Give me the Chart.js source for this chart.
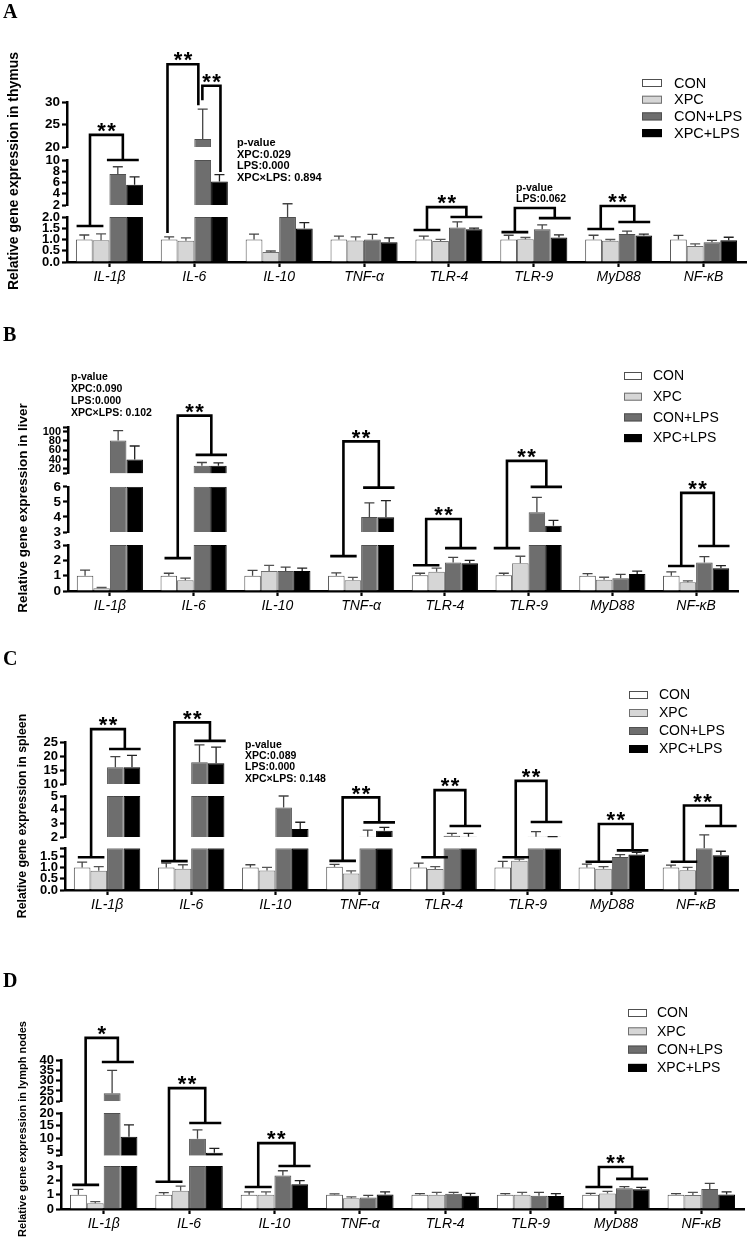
<!DOCTYPE html>
<html><head><meta charset="utf-8">
<script src="https://cdn.jsdelivr.net/npm/chart.js@4.4.1/dist/chart.umd.min.js"></script>
<style>
html,body{margin:0;padding:0;background:#fff;}
#page{position:relative;width:748px;height:1250px;overflow:hidden;background:#fff;}
.pnl{position:absolute;left:0;width:748px;}
canvas{display:block;}
</style></head><body>
<div id="page">
<div class="pnl" style="top:0;height:310px"><canvas id="cA" width="748" height="310" style="width:748px;height:310px"></canvas></div>
<div class="pnl" style="top:310px;height:320px"><canvas id="cB" width="748" height="320" style="width:748px;height:320px"></canvas></div>
<div class="pnl" style="top:630px;height:310px"><canvas id="cC" width="748" height="310" style="width:748px;height:310px"></canvas></div>
<div class="pnl" style="top:940px;height:310px"><canvas id="cD" width="748" height="310" style="width:748px;height:310px"></canvas></div>
</div>
<script>
// ---------------- DATA ----------------
const categories = ['IL-1β','IL-6','IL-10','TNF-α','TLR-4','TLR-9','MyD88','NF-κB'];
const groups = ['CON','XPC','CON+LPS','XPC+LPS'];

// A: thymus (mean, upper SD)
const thymusCON       = [1.0, 1.0, 1.0, 1.0, 1.0, 1.0, 1.0, 1.0];
const thymusCONErr    = [0.2, 0.12, 0.24, 0.15, 0.15, 0.19, 0.19, 0.18];
const thymusXPC       = [0.97, 0.94, 0.44, 0.96, 0.93, 1.01, 0.94, 0.71];
const thymusXPCErr    = [0.28, 0.13, 0.05, 0.16, 0.08, 0.08, 0.06, 0.1];
const thymusCONLPS    = [7.5, 21.8, 2.0, 1.0, 1.53, 1.46, 1.24, 0.88];
const thymusCONLPSErr = [1.3, 6.6, 0.59, 0.23, 0.25, 0.19, 0.13, 0.08];
const thymusXPCLPS    = [5.6, 6.2, 1.49, 0.88, 1.46, 1.09, 1.18, 0.97];
const thymusXPCLPSErr = [1.4, 1.2, 0.26, 0.19, 0.05, 0.12, 0.06, 0.13];
const thymusRanges = [[0, 2], [2, 10], [20, 30]];
const thymusTicks = [[0, 0.5, 1, 1.5, 2], [2, 4, 6, 8, 10], [20, 25, 30]];
const thymusTickLabels = [['0.0','0.5','1.0','1.5','2.0'], ['2','4','6','8','10'], ['20','25','30']];
// [category, left leg slot, right leg slot, [seg,val] left end, [seg,val] right end, [seg,val] top, feet, label]
const thymusBrackets = [
  [0, 0.34, 2.3, [0, 1.6], [1, 10], [2, 22.7], true, '**'],
  [1, -0.1, 1.74, [0, 1.29], [2, 29.3], [2, 38.4], false, '**'],
  [1, 1.98, 3.06, [2, 30.4], [1, 7.87], [2, 33.6], false, '**'],
  [4, 0.19, 2.54, [0, 1.42], [0, 2.0], [0, 2.44], true, '**'],
  [5, 0.37, 2.75, [0, 1.33], [0, 1.95], [0, 2.4], true, ''],
  [6, 0.43, 2.43, [0, 1.47], [0, 1.78], [0, 2.49], true, '**']
];
const thymusPValues = [['p-value','XPC:0.029','LPS:0.000','XPC×LPS: 0.894'], ['p-value','LPS:0.062']];

// B: liver
const liverCON       = [1.0, 1.0, 1.0, 1.0, 1.03, 1.03, 1.0, 1.0];
const liverCONErr    = [0.36, 0.16, 0.35, 0.18, 0.13, 0.13, 0.14, 0.25];
const liverXPC       = [0.18, 0.71, 1.3, 0.71, 1.26, 1.81, 0.73, 0.57];
const liverXPCErr    = [0.05, 0.13, 0.38, 0.18, 0.24, 0.46, 0.17, 0.09];
const liverCONLPS    = [81, 26.5, 1.3, 4.0, 1.87, 4.31, 0.84, 1.87];
const liverCONLPSErr = [21, 7, 0.26, 0.93, 0.33, 0.99, 0.25, 0.38];
const liverXPCLPS    = [40, 26.5, 1.3, 3.98, 1.81, 3.42, 1.11, 1.49];
const liverXPCLPSErr = [29, 6, 0.19, 1.1, 0.19, 0.35, 0.19, 0.17];
const liverRanges = [[0, 3], [3, 6], [10, 110]];
const liverTicks = [[0, 1, 2, 3], [3, 4, 5, 6], [10, 20, 40, 60, 80, 100, 110]];
const liverTickLabels = [['0','1','2','3'], ['3','4','5','6'], ['','20','40','60','80','100','']];
const liverBrackets = [
  [1, 0.54, 2.57, [0, 2.15], [2, 50], [2, 134.5], true, '**'],
  [3, 0.43, 2.57, [0, 2.28], [1, 5.95], [2, 79], true, '**'],
  [4, 0.37, 2.46, [0, 1.68], [0, 2.8], [1, 3.87], true, '**'],
  [5, 0.19, 2.57, [0, 2.8], [1, 6.0], [2, 37], true, '**'],
  [7, 0.6, 2.57, [0, 1.63], [0, 2.94], [1, 5.6], true, '**']
];
const liverPValues = [['p-value','XPC:0.090','LPS:0.000','XPC×LPS: 0.102']];

// C: spleen
const spleenCON       = [1.0, 1.0, 1.0, 1.03, 1.0, 1.0, 1.0, 1.0];
const spleenCONErr    = [0.24, 0.19, 0.12, 0.11, 0.19, 0.27, 0.15, 0.1];
const spleenXPC       = [0.85, 0.94, 0.87, 0.73, 0.93, 1.3, 0.94, 0.88];
const spleenXPCErr    = [0.19, 0.18, 0.13, 0.12, 0.11, 0.07, 0.1, 0.12];
const spleenCONLPS    = [16, 17.8, 4.16, 2.02, 2.1, 2.02, 1.46, 1.9];
const spleenCONLPSErr = [3.8, 6.2, 0.84, 0.48, 0.17, 0.37, 0.11, 0.55];
const spleenXPCLPS    = [16, 17.4, 2.58, 2.46, 2.02, 2.01, 1.57, 1.54];
const spleenXPCLPSErr = [4.2, 5.8, 0.5, 0.24, 0.25, 0.02, 0.1, 0.18];
const spleenRanges = [[0, 1.85], [2, 5], [10, 25]];
const spleenTicks = [[0, 0.5, 1, 1.5, 1.85], [2, 3, 4, 5], [10, 15, 20, 25]];
const spleenTickLabels = [['0.0','0.5','1.0','1.5',''], ['2','3','4','5'], ['10','15','20','25']];
const spleenBrackets = [
  [0, 0.54, 2.57, [0, 1.45], [2, 22.5], [2, 29.6], true, '**'],
  [1, 0.49, 2.63, [0, 1.28], [2, 25.4], [2, 32], true, '**'],
  [3, 0.49, 2.69, [0, 1.29], [1, 3.07], [1, 4.9], true, '**'],
  [4, 0.96, 2.81, [0, 1.45], [1, 2.8], [1, 5.43], true, '**'],
  [5, 0.78, 2.63, [0, 1.45], [1, 3.1], [2, 11.1], true, '**'],
  [6, 0.72, 2.75, [0, 1.25], [0, 1.76], [1, 2.95], true, '**'],
  [7, 0.78, 3.0, [0, 1.25], [1, 2.8], [1, 4.3], true, '**']
];
const spleenPValues = [['p-value','XPC:0.089','LPS:0.000','XPC×LPS: 0.148']];

// D: lymph nodes
const lymphCON       = [1.0, 1.0, 1.0, 1.0, 1.0, 1.0, 1.0, 1.0];
const lymphCONErr    = [0.37, 0.14, 0.2, 0.05, 0.07, 0.07, 0.09, 0.07];
const lymphXPC       = [0.4, 1.28, 1.0, 0.75, 1.0, 1.0, 1.09, 0.98];
const lymphXPCErr    = [0.11, 0.32, 0.2, 0.09, 0.16, 0.16, 0.14, 0.18];
const lymphCONLPS    = [23.9, 9.7, 2.33, 0.8, 1.07, 0.93, 1.44, 1.4];
const lymphCONLPSErr = [11.1, 3.6, 0.34, 0.15, 0.09, 0.23, 0.12, 0.39];
const lymphXPCLPS    = [10.5, 4.2, 1.72, 1.02, 0.93, 0.9, 1.37, 1.02];
const lymphXPCLPSErr = [4.8, 1.7, 0.26, 0.18, 0.16, 0.17, 0.14, 0.18];
const lymphRanges = [[0, 3], [3, 20], [20, 40]];
const lymphTicks = [[0, 1, 2, 3], [3, 5, 10, 15, 20], [20, 25, 30, 35, 40]];
const lymphTickLabels = [['0','1','2','3'], ['','5','10','15','20'], ['20','25','30','35','40']];
const lymphBrackets = [
  [0, 0.43, 2.34, [0, 1.68], [2, 39], [2, 50.7], true, '*'],
  [1, 0.31, 2.46, [0, 1.9], [1, 16], [2, 26.4], true, '**'],
  [2, 0.54, 2.69, [0, 1.54], [0, 3.0], [1, 8.0], true, '**'],
  [6, 0.49, 2.46, [0, 1.54], [0, 2.1], [0, 2.93], true, '**']
];

// ---------------- STYLE / LAYOUT ----------------
const FONT = "'Liberation Sans', Arial, Helvetica, sans-serif";
const SERIF = "'Liberation Serif', 'Times New Roman', serif";
const fills = ['#ffffff', '#d6d6d6', '#6e6e6e', '#000000'];
const edges = ['#505050', '#707070', '#505050', '#000000'];
const errColors = ['#444444', '#555555', '#444444', '#222222'];
Chart.defaults.font.family = FONT;
Chart.defaults.color = '#000';

const panels = [
  { canvas: 'cA', letter: 'A', title: 'Relative gene expression in thymus',
    series: [thymusCON, thymusXPC, thymusCONLPS, thymusXPCLPS],
    errors: [thymusCONErr, thymusXPCErr, thymusCONLPSErr, thymusXPCLPSErr],
    ranges: thymusRanges, ticks: thymusTicks, tickLabels: thymusTickLabels,
    brackets: thymusBrackets, pvalues: thymusPValues,
    canvasH: 310, area: {left: 67, right: 746, top: 102, bottom: 262},
    segH: [45, 45, 45], gapH: [12, 13], tickSize: [13, 13, 13.5],
    letterPos: [3, 18], titlePos: [14, 171], titleSize: 14,
    legend: {x: 642, y: 83, dy: 16.7, w: 20, h: 8, tx: 674, size: 14.5},
    pPos: [{x: 237, y: 143, lh: 11.7, size: 11}, {x: 516, y: 188, lh: 11.5, size: 10.5}] },
  { canvas: 'cB', letter: 'B', title: 'Relative gene expression in liver',
    series: [liverCON, liverXPC, liverCONLPS, liverXPCLPS],
    errors: [liverCONErr, liverXPCErr, liverCONLPSErr, liverXPCLPSErr],
    ranges: liverRanges, ticks: liverTicks, tickLabels: liverTickLabels,
    brackets: liverBrackets, pvalues: liverPValues,
    canvasH: 320, area: {left: 68, right: 738, top: 117, bottom: 281},
    segH: [45.7, 45, 46.2], gapH: [13, 13.4], tickSize: [13.5, 13.5, 11],
    letterPos: [3, 31], titlePos: [23, 198], titleSize: 13.5,
    legend: {x: 624, y: 66, dy: 20.7, w: 18, h: 8, tx: 653, size: 14},
    pPos: [{x: 71, y: 67, lh: 12, size: 10.5}] },
  { canvas: 'cC', letter: 'C', title: 'Relative gene expression in spleen',
    series: [spleenCON, spleenXPC, spleenCONLPS, spleenXPCLPS],
    errors: [spleenCONErr, spleenXPCErr, spleenCONLPSErr, spleenXPCLPSErr],
    ranges: spleenRanges, ticks: spleenTicks, tickLabels: spleenTickLabels,
    brackets: spleenBrackets, pvalues: spleenPValues,
    canvasH: 310, area: {left: 65, right: 738, top: 112, bottom: 260},
    segH: [41.7, 41, 42], gapH: [11.3, 12], tickSize: [13, 13, 13],
    letterPos: [3, 35], titlePos: [23, 186], titleSize: 12.3,
    legend: {x: 629, y: 65, dy: 18, w: 19, h: 8, tx: 659, size: 14},
    pPos: [{x: 245, y: 115, lh: 11.3, size: 10.5}] },
  { canvas: 'cD', letter: 'D', title: 'Relative gene expression in lymph nodes',
    series: [lymphCON, lymphXPC, lymphCONLPS, lymphXPCLPS],
    errors: [lymphCONErr, lymphXPCErr, lymphCONLPSErr, lymphXPCLPSErr],
    ranges: lymphRanges, ticks: lymphTicks, tickLabels: lymphTickLabels,
    brackets: lymphBrackets, pvalues: [],
    canvasH: 310, area: {left: 61, right: 744, top: 120, bottom: 269},
    segH: [43, 42.7, 41.3], gapH: [10.3, 11.7], tickSize: [13, 13, 13],
    letterPos: [3, 47], titlePos: [23, 189], titleSize: 11,
    legend: {x: 628, y: 73, dy: 18.3, w: 19, h: 8, tx: 657, size: 14},
    pPos: [] }
];

const YW = 40, XH = 30;

function makeDecor(P) {
  const nseg = P.ranges.length;
  return {
    id: 'decor' + P.letter,
    afterDatasetsDraw(chart) {
      const ctx = chart.ctx;
      const yPix = (sv) => chart.scales['y' + sv[0]].getPixelForValue(sv[1]);
      // error bars (upper SD)
      ctx.save();
      P.series.forEach((vals, s) => {
        const meta = chart.getDatasetMeta(s * nseg);
        vals.forEach((v, i) => {
          let k = 0;
          for (let j = 0; j < nseg; j++) if (v > P.ranges[j][0]) k = j;
          const top = Math.min(v, P.ranges[k][1]);
          const x = meta.data[i].x;
          const y0 = yPix([k, top]);
          const y1 = yPix([k, v + P.errors[s][i]]);
          ctx.strokeStyle = errColors[s];
          ctx.lineWidth = 1.3;
          ctx.beginPath();
          ctx.moveTo(x, y0); ctx.lineTo(x, y1);
          ctx.moveTo(x - 5, y1); ctx.lineTo(x + 5, y1);
          ctx.stroke();
        });
      });
      ctx.restore();
    },
    afterDraw(chart) {
      const ctx = chart.ctx;
      const yPix = (sv) => chart.scales['y' + sv[0]].getPixelForValue(sv[1]);
      ctx.save();
      // significance brackets
      P.brackets.forEach(b => {
        const [cat, sa, sb, fa, fb, tp, feet, label] = b;
        const x0 = chart.getDatasetMeta(0).data[cat].x;
        const dx = chart.getDatasetMeta(nseg).data[cat].x - x0;
        const xa = x0 + sa * dx, xb = x0 + sb * dx;
        const ya = yPix(fa), yb = yPix(fb), yt = yPix(tp);
        ctx.strokeStyle = '#000';
        ctx.lineWidth = 2.6;
        ctx.lineJoin = 'miter';
        ctx.lineCap = 'butt';
        ctx.beginPath();
        ctx.moveTo(xa, ya); ctx.lineTo(xa, yt); ctx.lineTo(xb, yt); ctx.lineTo(xb, yb);
        ctx.stroke();
        if (feet) {
          ctx.beginPath();
          ctx.moveTo(xa - 0.8 * dx, ya); ctx.lineTo(xa + 0.8 * dx, ya);
          ctx.moveTo(xb - 0.95 * dx, yb); ctx.lineTo(xb + 0.95 * dx, yb);
          ctx.stroke();
        }
        if (label) {
          ctx.fillStyle = '#000';
          ctx.font = 'bold 22px ' + FONT;
          ctx.textAlign = 'center';
          ctx.textBaseline = 'alphabetic';
          const cx = (xa + xb) / 2, cy = yt - 9 + 12.2;
          if (label.length === 2) {
            ctx.fillText('*', cx - 5, cy);
            ctx.fillText('*', cx + 5, cy);
          } else {
            ctx.fillText('*', cx, cy);
          }
        }
      });
      // p-value texts
      ctx.fillStyle = '#000';
      ctx.textAlign = 'left';
      ctx.textBaseline = 'middle';
      P.pvalues.forEach((lines, j) => {
        const pp = P.pPos[j];
        ctx.font = 'bold ' + pp.size + 'px ' + FONT;
        lines.forEach((t, n) => ctx.fillText(t, pp.x, pp.y + n * pp.lh));
      });
      // legend
      const L = P.legend;
      groups.forEach((g, s) => {
        const cy = L.y + s * L.dy;
        ctx.fillStyle = fills[s];
        ctx.fillRect(L.x, cy - L.h / 2, L.w, L.h);
        ctx.strokeStyle = edges[s];
        ctx.lineWidth = 1;
        ctx.strokeRect(L.x + 0.5, cy - L.h / 2 + 0.5, L.w - 1, L.h - 1);
        ctx.fillStyle = '#000';
        ctx.font = L.size + 'px ' + FONT;
        ctx.textAlign = 'left';
        ctx.textBaseline = 'middle';
        ctx.fillText(g, L.tx, cy + 0.5);
      });
      // panel letter
      ctx.font = 'bold 20px ' + SERIF;
      ctx.textAlign = 'left';
      ctx.textBaseline = 'alphabetic';
      ctx.fillText(P.letter, P.letterPos[0], P.letterPos[1]);
      // y-axis title
      ctx.save();
      ctx.translate(P.titlePos[0], P.titlePos[1]);
      ctx.rotate(-Math.PI / 2);
      ctx.font = 'bold ' + P.titleSize + 'px ' + FONT;
      ctx.textAlign = 'center';
      ctx.textBaseline = 'middle';
      ctx.fillText(P.title, 0, 0);
      ctx.restore();
      ctx.restore();
    }
  };
}

function buildPanel(P) {
  const nseg = P.ranges.length;
  const datasets = [];
  P.series.forEach((vals, s) => {
    for (let k = 0; k < nseg; k++) {
      const lo = P.ranges[k][0], hi = P.ranges[k][1];
      datasets.push({
        label: groups[s], stack: groups[s], yAxisID: 'y' + k,
        data: vals.map(v => (v > lo ? [lo, Math.min(v, hi)] : null)),
        backgroundColor: fills[s], borderColor: edges[s], borderWidth: 1,
        barPercentage: 1, categoryPercentage: 0.79
      });
    }
  });
  const scales = {
    x: {
      type: 'category', position: 'bottom', offset: true,
      afterFit: sc => { sc.height = XH; sc.paddingLeft = 0; sc.paddingRight = 0; },
      ticks: {autoSkip: false, maxRotation: 0, minRotation: 0, padding: 2, color: '#000',
              font: {style: 'italic', size: 14, family: FONT}},
      grid: {display: true, drawOnChartArea: false, drawTicks: true, tickLength: 5, tickWidth: 2.2,
             tickColor: '#000', color: '#000', offset: false},
      border: {display: true, color: '#000', width: 2.5}
    }
  };
  for (let k = 0; k < nseg; k++) {
    const lo = P.ranges[k][0], hi = P.ranges[k][1];
    const tv = P.ticks[k], tl = P.tickLabels[k];
    scales['y' + k] = {
      type: 'linear', position: 'left', stack: 'brk', stackWeight: P.segH[k], weight: 2 * k + 1,
      min: lo, max: hi, stacked: false,
      afterBuildTicks: sc => { sc.ticks = tv.map(v => ({value: v})); },
      afterFit: sc => { sc.width = YW; sc.paddingTop = 0; sc.paddingBottom = 0; },
      ticks: {autoSkip: false, padding: 2, color: '#000',
              font: {weight: 'bold', size: P.tickSize[k], family: FONT},
              callback: (v, i) => tl[i]},
      grid: {display: true, drawOnChartArea: false, drawTicks: true, tickLength: 5, tickWidth: 2.2,
             tickColor: '#000', color: '#000'},
      border: {display: true, color: '#000', width: 2.5}
    };
    if (k < nseg - 1) {
      scales['g' + k] = {
        type: 'linear', position: 'left', stack: 'brk', stackWeight: P.gapH[k], weight: 2 * k + 2,
        display: true,
        afterFit: sc => { sc.width = YW; sc.paddingTop = 0; sc.paddingBottom = 0; },
        ticks: {display: false}, grid: {display: false, drawTicks: false}, border: {display: false}
      };
    }
  }
  const A = P.area;
  new Chart(document.getElementById(P.canvas), {
    type: 'bar',
    data: {labels: categories, datasets},
    options: {
      responsive: false, animation: false, devicePixelRatio: 1,
      layout: {padding: {left: A.left - YW, right: 748 - A.right, top: A.top, bottom: P.canvasH - A.bottom - XH}},
      plugins: {legend: {display: false}, tooltip: {enabled: false}},
      scales
    },
    plugins: [makeDecor(P)]
  });
}

panels.forEach(buildPanel);
</script>
</body></html>
